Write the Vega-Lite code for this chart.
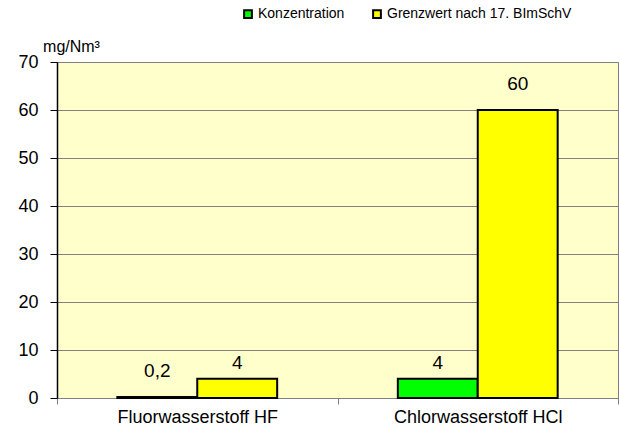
{
  "$schema": "https://vega.github.io/schema/vega-lite/v6.json",
  "width": 561,
  "height": 336,
  "autosize": {"type": "none"},
  "padding": {"left": 57, "top": 62, "right": 2, "bottom": 38},
  "background": "white",
  "config": {
    "font": "Liberation Sans",
    "view": {"fill": "#FFFFCC", "stroke": "#808080", "strokeWidth": 1}
  },
  "data": {
    "values": [
      {"stoff": "Fluorwasserstoff HF", "serie": "Konzentration", "wert": 0.2, "label": "0,2"},
      {"stoff": "Fluorwasserstoff HF", "serie": "Grenzwert nach 17. BImSchV", "wert": 4, "label": "4"},
      {"stoff": "Chlorwasserstoff HCl", "serie": "Konzentration", "wert": 4, "label": "4"},
      {"stoff": "Chlorwasserstoff HCl", "serie": "Grenzwert nach 17. BImSchV", "wert": 60, "label": "60"}
    ]
  },
  "encoding": {
    "x": {
      "field": "stoff",
      "type": "nominal",
      "sort": ["Fluorwasserstoff HF", "Chlorwasserstoff HCl"],
      "scale": {"paddingInner": 0, "paddingOuter": 0},
      "axis": {
        "title": null,
        "labelAngle": 0,
        "labelFontSize": 18,
        "labelColor": "black",
        "labelPadding": 4,
        "tickBand": "extent",
        "tickSize": 6,
        "tickColor": "#808080",
        "domainColor": "#808080",
        "grid": false
      }
    },
    "xOffset": {
      "field": "serie",
      "type": "nominal",
      "sort": ["Konzentration", "Grenzwert nach 17. BImSchV"],
      "scale": {"paddingInner": 0, "paddingOuter": 0.755}
    },
    "y": {
      "field": "wert",
      "type": "quantitative",
      "scale": {"domain": [0, 70], "nice": false},
      "axis": {
        "values": [0, 10, 20, 30, 40, 50, 60, 70],
        "title": "mg/Nm³",
        "titleAngle": 0,
        "titleFontSize": 16,
        "titleFontWeight": "normal",
        "titleColor": "black",
        "titleX": 14,
        "titleY": -16,
        "titleAlign": "center",
        "titleBaseline": "middle",
        "labelFontSize": 18,
        "labelColor": "black",
        "labelPadding": 12,
        "tickSize": 7,
        "tickColor": "black",
        "domainColor": "black",
        "domainWidth": 1.5,
        "gridColor": "#808080",
        "gridOpacity": 1
      }
    }
  },
  "layer": [
    {
      "mark": {"type": "bar", "stroke": "black", "strokeWidth": 2},
      "encoding": {
        "color": {
          "field": "serie",
          "type": "nominal",
          "sort": ["Konzentration", "Grenzwert nach 17. BImSchV"],
          "scale": {"domain": ["Konzentration", "Grenzwert nach 17. BImSchV"], "range": ["#00FF00", "#FFFF00"]},
          "legend": {
            "title": null,
            "orient": "none",
            "direction": "horizontal",
            "legendX": 184,
            "legendY": -55,
            "symbolType": "square",
            "symbolSize": 60,
            "symbolStrokeColor": "black",
            "symbolStrokeWidth": 2,
            "symbolOpacity": 1,
            "labelFontSize": 14,
            "labelLimit": 400,
            "labelColor": "black",
            "labelOffset": 3,
            "columnPadding": 24
          }
        }
      }
    },
    {
      "transform": [{"filter": "datum.wert != 4"}],
      "mark": {"type": "text", "baseline": "bottom", "dy": -16, "fontSize": 19, "color": "black"},
      "encoding": {
        "text": {"field": "label"}
      }
    },
    {
      "transform": [{"filter": "datum.wert == 4"}],
      "mark": {"type": "text", "baseline": "bottom", "dy": -6, "fontSize": 19, "color": "black"},
      "encoding": {
        "text": {"field": "label"}
      }
    }
  ]
}
